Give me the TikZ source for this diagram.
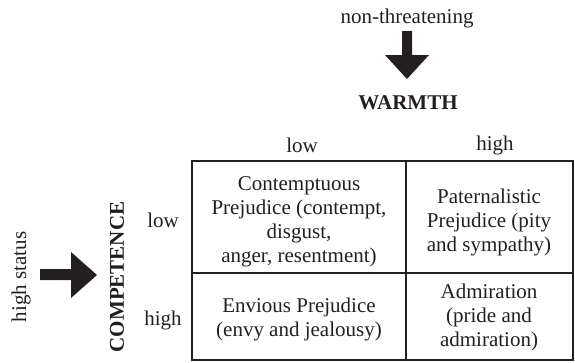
\documentclass[tikz,border=0pt]{standalone}
\usepackage{fontspec}
\setmainfont{Liberation Serif}
\definecolor{ink}{HTML}{231F20}
\begin{document}
\begin{tikzpicture}[x=1pt,y=-1pt,
  every node/.style={inner sep=0pt,outer sep=0pt,text=ink,font=\fontsize{21}{24}\selectfont},
  celltext/.style={align=center},
  grid/.style={draw=ink,line width=2pt},
  bigarrow/.style={fill=ink,draw=none}]
\useasboundingbox (0,0) rectangle (575,362);
% top
\node (nonthr) at (407,18) {non-threatening};
\filldraw[bigarrow] (402,31) -- (412,31) -- (412,55) -- (429,55) -- (407,79) -- (385,55) -- (402,55) -- cycle;
\node[font=\fontsize{21}{24}\selectfont\bfseries] (warmth) at (408,103) {WARMTH};
\node (collow) at (302,145) {low};
\node (colhigh) at (495,145) {high};
% left
\node[rotate=90] (highstatus) at (21,277) {high status};
\filldraw[bigarrow] (40,269) -- (71,269) -- (71,252) -- (97,275) -- (71,298) -- (71,280) -- (40,280) -- cycle;
\node[rotate=90,font=\fontsize{21}{24}\selectfont\bfseries] (comp) at (117,277) {COMPETENCE};
\node (rowlow) at (163,220) {low};
\node (rowhigh) at (163,320) {high};
% grid
\draw[grid] (192,161) rectangle (573,360);
\draw[grid] (406,161) -- (406,360);
\draw[grid] (192,273) -- (573,273);
% cells
\node[celltext] (c11) at (299,222) {Contemptuous\\Prejudice (contempt,\\disgust,\\anger, resentment)};
\node[celltext] (c12) at (489,222) {Paternalistic\\Prejudice (pity\\and sympathy)};
\node[celltext] (c21) at (299,319) {Envious Prejudice\\(envy and jealousy)};
\node[celltext] (c22) at (489,317) {Admiration\\(pride and\\admiration)};
\end{tikzpicture}
\end{document}
